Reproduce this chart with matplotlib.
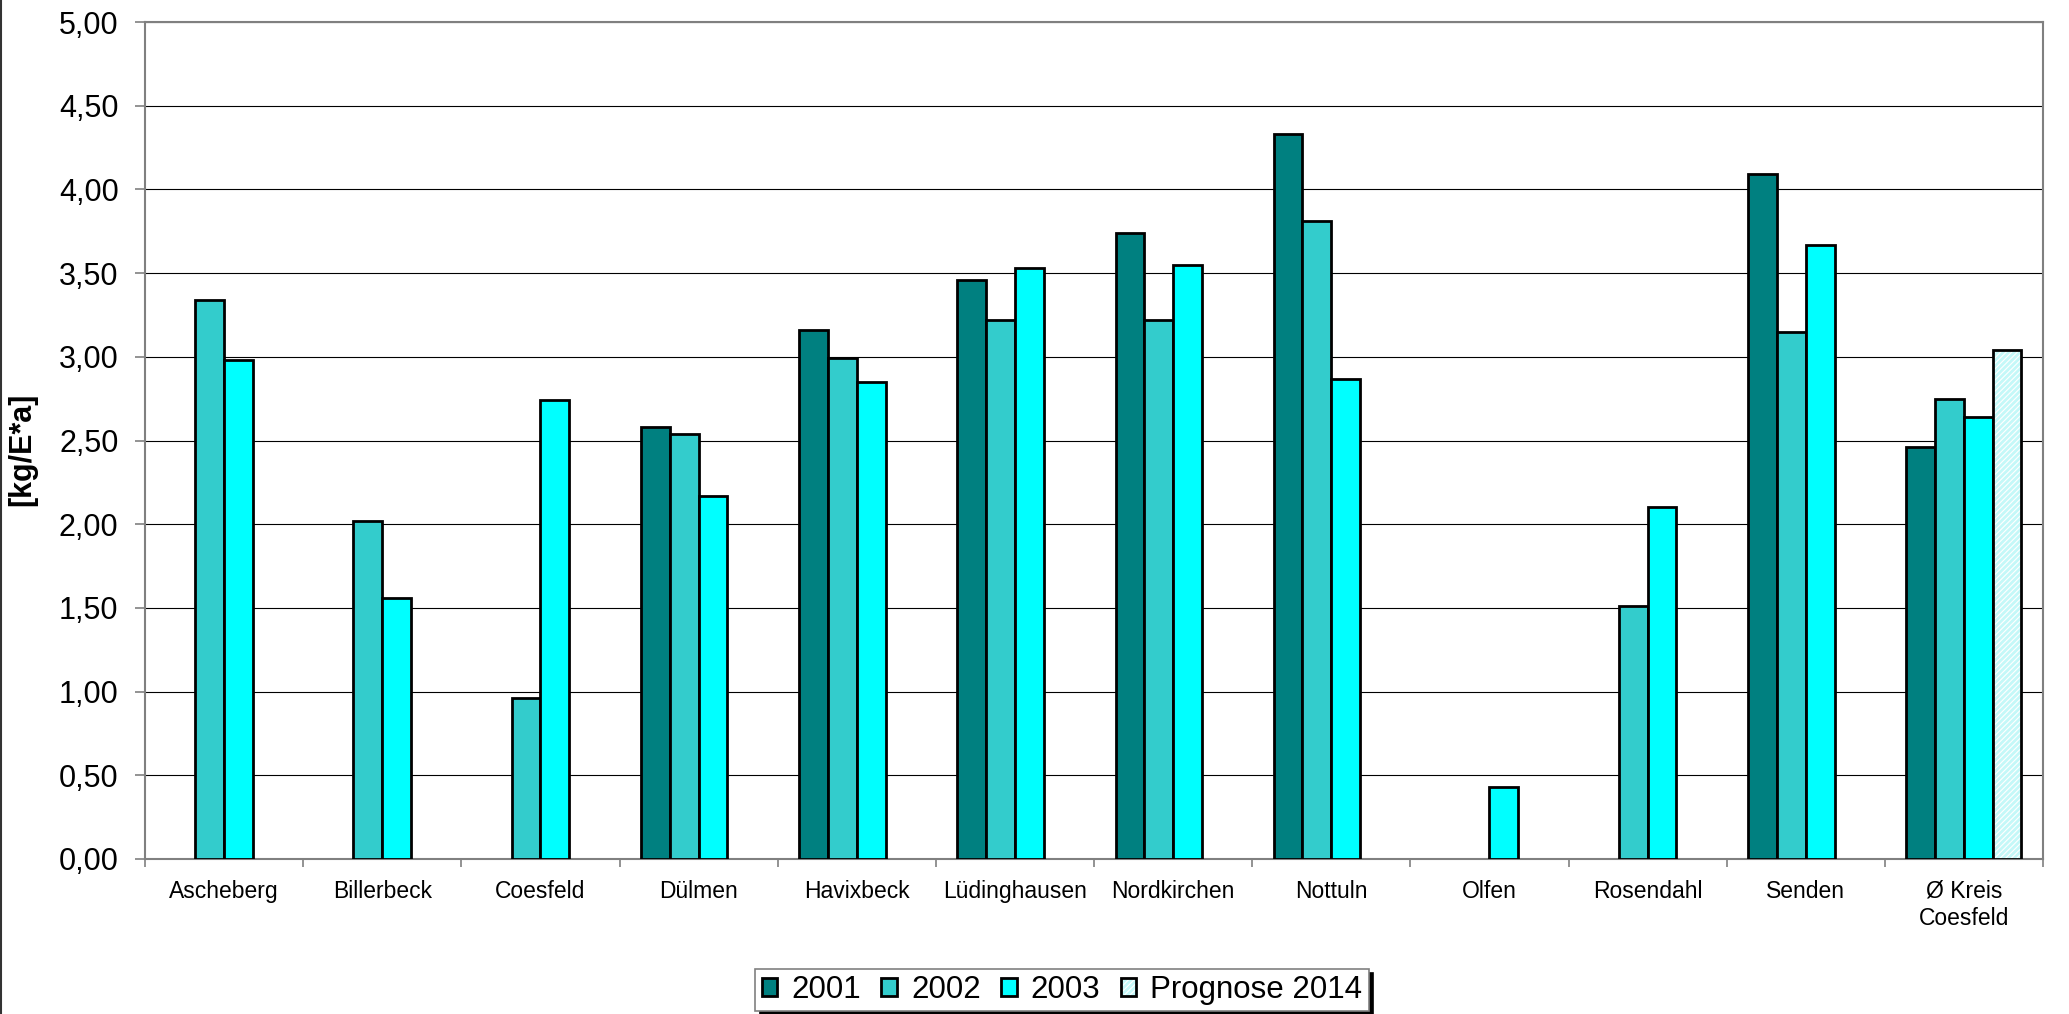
import numpy as np
import matplotlib
matplotlib.use("Agg")
import matplotlib.pyplot as plt
from matplotlib.patches import Patch
from matplotlib.lines import Line2D
from matplotlib.ticker import FuncFormatter, MultipleLocator

plt.rcParams["font.family"] = ["Liberation Sans", "DejaVu Sans"]
plt.rcParams["hatch.linewidth"] = 2.0

orte = ["Ascheberg", "Billerbeck", "Coesfeld", "Dülmen", "Havixbeck",
        "Lüdinghausen", "Nordkirchen", "Nottuln", "Olfen", "Rosendahl",
        "Senden", "Ø Kreis\nCoesfeld"]

# NaN = kein Wert
werte_2001 = [np.nan, np.nan, np.nan, 2.58, 3.16, 3.46, 3.74, 4.33, np.nan, np.nan, 4.09, 2.46]
werte_2002 = [3.34, 2.02, 0.96, 2.54, 2.99, 3.22, 3.22, 3.81, np.nan, 1.51, 3.15, 2.75]
werte_2003 = [2.98, 1.56, 2.74, 2.17, 2.85, 3.53, 3.55, 2.87, 0.43, 2.10, 3.67, 2.64]
prognose_2014 = [np.nan] * 11 + [3.04]

serien = ["2001", "2002", "2003"]
farben = ["#008080", "#33CCCC", "#00FFFF"]

fig = plt.figure(figsize=(20.69, 10.14), dpi=100)
ax = fig.add_axes([145 / 2069, 1 - 859 / 1014, (2043 - 145) / 2069, (859 - 22) / 1014])

x = np.arange(len(orte))
breite = 1 / 5.5
offsets = [-1.5, -0.5, 0.5]
rand = 2.0

handles = []
for werte, off, farbe, name in zip([werte_2001, werte_2002, werte_2003], offsets, farben, serien):
    ax.bar(x + off * breite, werte, breite, color=farbe, edgecolor="black",
           linewidth=rand, zorder=3)
    handles.append(Patch(facecolor=farbe, edgecolor="black", linewidth=rand))

# Prognose: schraffiert, dann Rahmen darueber
ax.bar(x + 1.5 * breite, prognose_2014, breite, facecolor="white",
       edgecolor="#C4F8F8", hatch="//////", linewidth=0, zorder=3)
ax.bar(x + 1.5 * breite, prognose_2014, breite, fill=False,
       edgecolor="black", linewidth=rand, zorder=4)
h_prog = (Patch(facecolor="white", edgecolor="#C4F8F8", hatch="//////", linewidth=0),
          Patch(fill=False, edgecolor="black", linewidth=rand))
handles.append(h_prog)

ax.set_xlim(-0.5, len(orte) - 0.5)
ax.set_ylim(0, 5)
ax.yaxis.set_major_locator(MultipleLocator(0.5))
ax.yaxis.set_major_formatter(FuncFormatter(lambda v, p: f"{v:.2f}".replace(".", ",")))
ax.grid(axis="y", color="black", linewidth=0.8, zorder=0)
ax.set_axisbelow(True)

for s in ax.spines.values():
    s.set_color("#808080")
    s.set_linewidth(1.5)

ax.set_xticks(x)
ax.set_xticklabels(orte, fontsize=16.5, linespacing=1.25)
ax.set_xticks(np.arange(-0.5, len(orte), 1), minor=True)
ax.tick_params(axis="x", which="major", length=0, pad=15)
ax.tick_params(axis="x", which="minor", length=6, width=1.2, color="#808080")
ax.tick_params(axis="y", labelsize=22, length=7, width=1.2, color="#808080", pad=12)

ax.set_ylabel("[kg/E*a]", fontsize=22, fontweight="bold")
ax.yaxis.set_label_coords(-0.0569, 0.49)

# Rahmenlinie links
fig.add_artist(Line2D([1 / 2069, 1 / 2069], [0, 1], transform=fig.transFigure,
                      color="#333333", linewidth=1.5))

leg = fig.legend(handles, serien + ["Prognose 2014"], ncol=4, fontsize=22.5,
                 loc="center", bbox_to_anchor=(1062 / 2069, 1 - 990 / 1014),
                 handlelength=0.5, handleheight=0.5, handletextpad=0.45,
                 columnspacing=0.65, borderpad=0.2, borderaxespad=0,
                 fancybox=False, frameon=True,
                 shadow={"ox": 3, "oy": -3, "color": "black", "alpha": 1})
leg.get_frame().set_edgecolor("#808080")
leg.get_frame().set_linewidth(1.2)

plt.savefig("out.png", dpi=100)
plt.close()
